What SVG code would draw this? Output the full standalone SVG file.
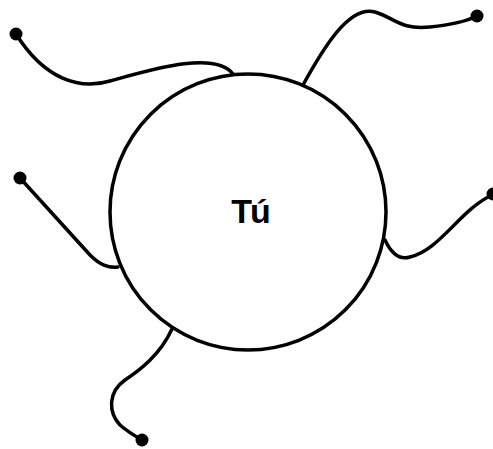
<svg xmlns="http://www.w3.org/2000/svg" width="493" height="449" viewBox="0 0 493 449">
<style>
.edge{fill:none;stroke:#000;stroke-width:3.5;stroke-linecap:round}
.dot{fill:#000}
.node{fill:#fff;stroke:#000;stroke-width:3.5}
.label{font-family:"Liberation Sans",Arial,sans-serif;font-weight:bold;font-size:34px;letter-spacing:-2px;fill:#000}
</style>
<rect width="493" height="449" fill="#fff"/>
<g id="connectors">
<path class="edge" d="M16,34 C45,80 80,90 110,81 C150,70 215,50 233,74"/>
<circle class="dot" cx="16" cy="34" r="6.5"/>
<path class="edge" d="M303,85 C325,45 350,5 375,12 C395,18 400,30 430,27 C450,25 465,22 477,16"/>
<circle class="dot" cx="477" cy="16" r="6.5"/>
<path class="edge" d="M20,178 L90,255 C100,265 108,268 118,267"/>
<circle class="dot" cx="20" cy="178" r="6.5"/>
<path class="edge" d="M385,240 C392,255 400,260 410,257 C440,250 460,210 492,195"/>
<circle class="dot" cx="493" cy="194" r="6.5"/>
<path class="edge" d="M172,329 C160,355 140,370 125,380 C108,392 108,412 120,425 C128,432 135,436 142,440"/>
<circle class="dot" cx="142" cy="440" r="6.5"/>
</g>
<g id="node-tu">
<circle class="node" cx="248" cy="212" r="138"/>
<text class="label" x="250" y="223" text-anchor="middle">Tú</text>
</g>
</svg>
